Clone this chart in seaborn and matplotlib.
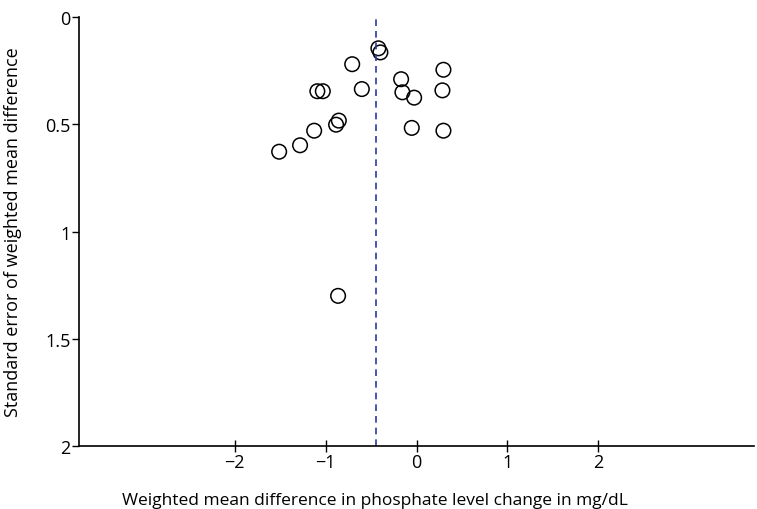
import matplotlib
matplotlib.use("Agg")
import matplotlib.pyplot as plt
import seaborn as sns
import pandas as pd

wmd = [-1.51, -1.28, -1.125, -0.884, -0.854, -1.09, -1.03, -0.707, -0.601,
       -0.419, -0.397, -0.169, -0.155, -0.026, -0.052, 0.296, 0.285, 0.296, -0.862]
se = [0.628, 0.598, 0.530, 0.502, 0.483, 0.346, 0.346, 0.220, 0.336,
      0.146, 0.165, 0.290, 0.351, 0.376, 0.517, 0.246, 0.342, 0.530, 1.30]
pooled = -0.444
xticks = [-2, -1, 0, 1, 2]
xtick_labels = ["\u22122", "\u22121", "0", "1", "2"]
yticks = [0, 0.5, 1, 1.5, 2]
ytick_labels = ["0", "0.5", "1", "1.5", "2"]

sns.set_style("white")
plt.rcParams['font.family'] = ['Open Sans', 'DejaVu Sans']

df = pd.DataFrame({"wmd": wmd, "se": se})

fig = plt.figure(figsize=(7.57, 5.10), dpi=100)
ax = fig.add_axes([0.1044, 0.1235, 0.8916, 0.8412])

sns.scatterplot(data=df, x="wmd", y="se", ax=ax, marker="o", s=110,
                facecolor="none", edgecolor="black", linewidth=1.1, legend=False)
ax.axvline(pooled, color="#2b3aa0", linestyle=(0, (4, 3)), linewidth=1.2)

ax.set_xlim(-3.71, 3.71)
ax.set_ylim(2, 0)
ax.set_xticks(xticks)
ax.set_xticklabels(xtick_labels)
ax.set_yticks(yticks)
ax.set_yticklabels(ytick_labels)
ax.tick_params(axis="x", bottom=True, direction="inout", length=8, width=1,
               color="black", labelsize=13, pad=1, labelcolor="black")
ax.tick_params(axis="y", left=True, direction="out", length=5, width=1,
               color="black", labelsize=13, pad=1, labelcolor="black")

for s in ["top", "right"]:
    ax.spines[s].set_visible(False)
for s in ["left", "bottom"]:
    ax.spines[s].set_color("black")
    ax.spines[s].set_linewidth(1.2)

ax.set_xlabel("Weighted mean difference in phosphate level change in mg/dL",
              fontsize=12.5, labelpad=15, color="black")
ax.xaxis.label.set_x(0.4385)
ax.set_ylabel("Standard error of weighted mean difference", fontsize=13,
              labelpad=17, color="black")

fig.savefig("out.png", dpi=100)
